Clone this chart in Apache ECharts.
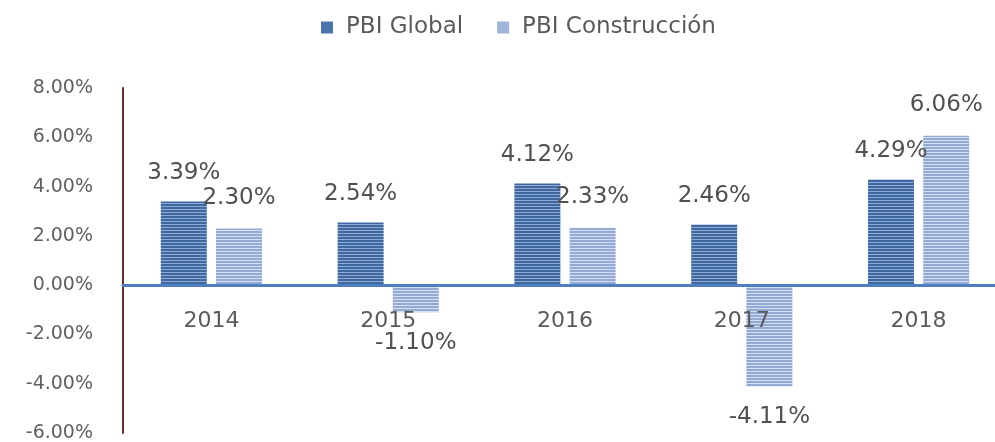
<!DOCTYPE html>
<html>
<head>
<meta charset="utf-8">
<script src="https://cdn.jsdelivr.net/npm/echarts@6/dist/echarts.min.js"></script>
<style>
  html, body { margin: 0; padding: 0; background: #fff; }
  #main { width: 995px; height: 442px; }
</style>
</head>
<body>
<div id="main"></div>
<script>
var years = ['2014', '2015', '2016', '2017', '2018'];
var pbiGlobal = [3.39, 2.54, 4.12, 2.46, 4.29];
var pbiConstruccion = [2.30, -1.10, 2.33, -4.11, 6.06];
var yTicks = { min: -6, max: 8, step: 2 };

// rayas horizontales como en el grafico de Excel
function stripes(base, line) {
    var c = document.createElement('canvas');
    c.width = 4;
    c.height = 3;
    var ctx = c.getContext('2d');
    ctx.fillStyle = base;
    ctx.fillRect(0, 0, 4, 3);
    ctx.fillStyle = line;
    ctx.fillRect(0, 2, 4, 1);
    return { image: c, repeat: 'repeat' };
}

var font = '"DejaVu Sans", sans-serif';
var gridTop = 88, gridBottom = 9;
var plotH = 442 - gridTop - gridBottom;
// el eje x va sobre el cero, con las etiquetas justo debajo
var zeroOffset = -plotH * (0 - yTicks.min) / (yTicks.max - yTicks.min);

var myChart = echarts.init(document.getElementById('main'));

myChart.setOption({
    animation: false,
    legend: {
        top: 11,
        left: 316,
        itemWidth: 12,
        itemHeight: 12,
        itemGap: 34,
        icon: 'rect',
        textStyle: { fontSize: 23, color: '#5a5a5a', fontFamily: font, padding: [0, 0, 0, 8] },
        data: [
            { name: 'PBI Global', itemStyle: { color: '#4a74ac' } },
            { name: 'PBI Construcción', itemStyle: { color: '#9fb4d8' } }
        ]
    },
    grid: { left: 123, right: -12, top: gridTop, bottom: gridBottom, outerBoundsMode: 'none' },
    xAxis: {
        type: 'category',
        data: years,
        z: 3,
        position: 'bottom',
        offset: zeroOffset,
        axisLine: { onZero: false, lineStyle: { color: '#4f7fc0', width: 3 } },
        axisTick: { show: false },
        axisLabel: { margin: 25, fontSize: 22, color: '#5a5a5a', fontFamily: font }
    },
    yAxis: {
        type: 'value',
        min: yTicks.min,
        max: yTicks.max,
        interval: yTicks.step,
        splitLine: { show: false },
        axisLine: { show: true, lineStyle: { color: '#6e2b2f', width: 2 } },
        axisTick: { show: false },
        axisLabel: {
            margin: 30,
            fontSize: 19,
            color: '#606060',
            fontFamily: font,
            formatter: function (v) { return v.toFixed(2) + '%'; }
        }
    },
    series: [{
        name: 'PBI Global',
        type: 'bar',
        data: pbiGlobal,
        barWidth: 46,
        barGap: '20%',
        itemStyle: { color: stripes('#3f68a0', '#8eabd4') },
        label: {
            show: true,
            position: 'top',
            distance: 17,
            fontSize: 23,
            color: '#505050',
            fontFamily: font,
            formatter: function (p) { return p.value.toFixed(2) + '%'; }
        }
    }, {
        name: 'PBI Construcción',
        type: 'bar',
        data: pbiConstruccion.map(function (v) {
            return { value: v, label: { position: v < 0 ? 'bottom' : 'top' } };
        }),
        barWidth: 46,
        itemStyle: { color: stripes('#93abd4', '#d4def0') },
        label: {
            show: true,
            distance: 19,
            fontSize: 23,
            color: '#505050',
            fontFamily: font,
            formatter: function (p) { return p.value.toFixed(2) + '%'; }
        }
    }]
});
</script>
</body>
</html>
